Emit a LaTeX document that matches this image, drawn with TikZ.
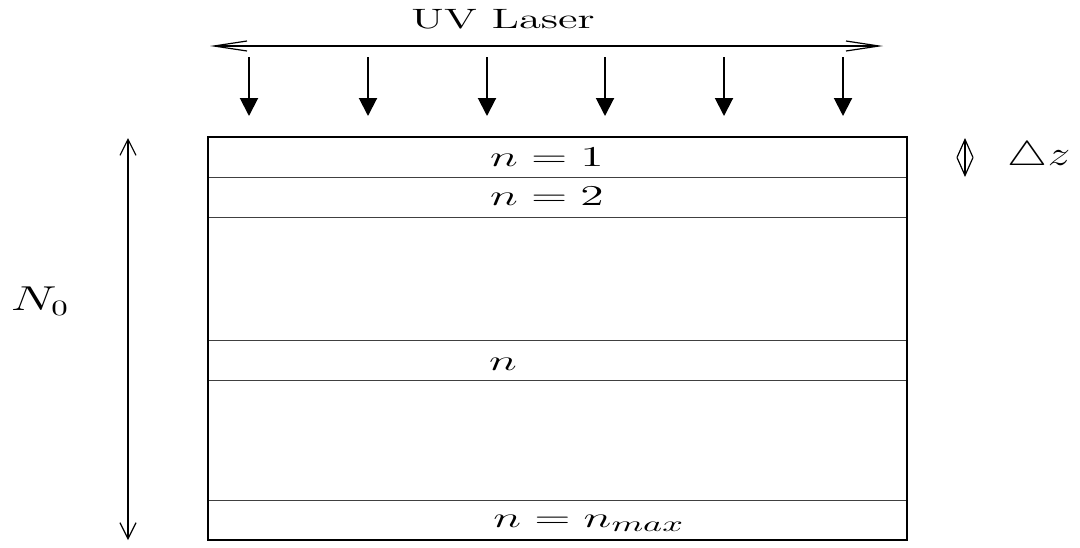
\documentclass[tikz,border=0pt]{standalone}
\usepackage{graphicx}
\usetikzlibrary{arrows.meta}
\begin{document}
\begin{tikzpicture}[x=0.5pt,y=-0.5pt,
  mathlbl/.style={anchor=base,inner sep=0pt,font=\fontsize{15}{18}\selectfont},
  laserlbl/.style={anchor=base,inner sep=0pt,font=\fontsize{14}{17}\selectfont},
  dellbl/.style={anchor=base,inner sep=0pt,font=\fontsize{16}{19}\selectfont},
  scanarrow/.style={line width=0.6pt,{Straight Barb[length=16.5pt,width=5pt]}-{Straight Barb[length=16.5pt,width=5pt]}},
  beamarrow/.style={line width=1pt,-{Triangle[length=9pt,width=9pt]}},
  heightarrow/.style={line width=0.6pt,{Straight Barb[length=8pt,width=8pt]}-{Straight Barb[length=8pt,width=8pt]}},
  slicearrow/.style={line width=0.6pt,{Straight Barb[length=9pt,width=8pt]}-{Straight Barb[length=9pt,width=8pt]}},
  boxline/.style={line width=0.9pt},
  layerline/.style={line width=0.5pt,black!75}]
\useasboundingbox (0,0) rectangle (1080,547);

% laser label and scan arrow
\node[laserlbl] (uv) at (503,28) {\scalebox{1.6}[1]{UV Laser}};
\coordinate (laserL) at (210,46);
\coordinate (laserR) at (883,46);
\draw[scanarrow] (laserL) -- (laserR);

% beam arrows
\foreach \i/\x in {1/249,2/368,3/487,4/605,5/724,6/843}{
  \coordinate (bt\i) at (\x,57);
  \coordinate (bb\i) at (\x,116);
  \draw[beamarrow] (bt\i) -- (bb\i);
}

% sample box
\coordinate (boxTL) at (208,137);
\coordinate (boxBR) at (907,540);
\foreach \j/\y in {1/177,2/217,3/340,4/380,5/500}{
  \coordinate (ll\j) at (208,\y);
  \coordinate (lr\j) at (907,\y);
  \draw[layerline] (ll\j) -- (lr\j);
}
\draw[boxline] (boxTL) rectangle (boxBR);

% layer labels
\node[mathlbl] (n1) at (547,166) {\scalebox{1.65}[1]{$n = 1$}};
\node[mathlbl] (n2) at (547,205) {\scalebox{1.65}[1]{$n = 2$}};
\node[mathlbl] (nn) at (503,370) {\scalebox{1.65}[1]{$n$}};
\node[mathlbl] (nmax) at (589,527) {\scalebox{1.65}[1]{$n = n_{max}$}};

% height arrow
\coordinate (hTop) at (128,138);
\coordinate (hBot) at (128,540);
\draw[heightarrow] (hTop) -- (hBot);
\node[mathlbl,font=\fontsize{16}{19}\selectfont] (N0) at (40,310) {\scalebox{1.5}[1]{$N_0$}};

% slice arrow
\coordinate (sTop) at (965,138);
\coordinate (sBot) at (965,177);
\draw[slicearrow] (sTop) -- (sBot);
\node[dellbl] (dz) at (1039,165) {\scalebox{1.3}[1]{$\triangle z$}};
\end{tikzpicture}
\end{document}
